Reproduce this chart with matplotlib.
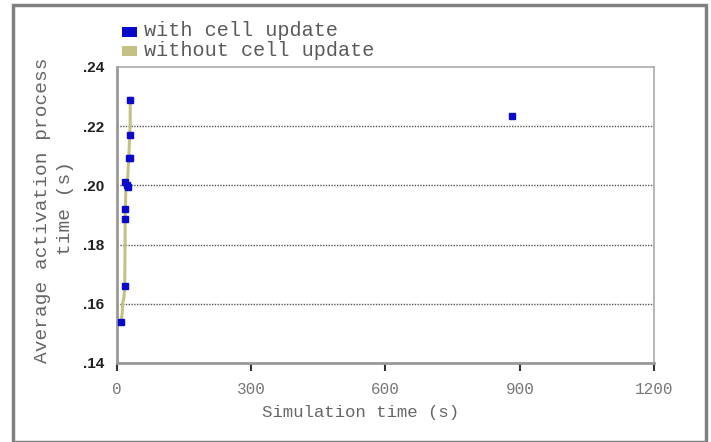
import numpy as np
import matplotlib
matplotlib.use("Agg")
import matplotlib.pyplot as plt
from matplotlib.patches import Rectangle

# "with cell update" samples (simulation time s, avg activation time s)
with_time = [9.6, 19.0, 19.0, 19.5, 19.5, 24.0, 24.5, 28.5, 29.5, 30.0, 30.3, 883.0]
with_value = [0.1539, 0.1660, 0.1887, 0.1920, 0.2011, 0.2000, 0.1995, 0.2094, 0.2094, 0.2171, 0.2288, 0.2233]

# "without cell update" samples
without_time = [9.6, 12.5, 13.5, 16.0, 18.0, 19.0, 20.5, 24.0, 27.0, 29.0, 30.0, 30.3]
without_value = [0.1539, 0.1570, 0.1605, 0.1620, 0.1660, 0.1887, 0.2000, 0.2010, 0.2094, 0.2171, 0.2200, 0.2295]

x_ticks = [0, 300, 600, 900, 1200]
y_ticks = [0.14, 0.16, 0.18, 0.20, 0.22, 0.24]
y_tick_labels = ['.14', '.16', '.18', '.20', '.22', '.24']
grid_levels = [0.16, 0.18, 0.20, 0.22]

blue = '#0a0acc'
olive = '#c4c184'
mono = 'Liberation Mono'
W, H = 711, 442

fig = plt.figure(figsize=(7.11, 4.42), dpi=100)
fig.patches.append(Rectangle((13 / W, 0.0), (706 - 13) / W, (H - 5) / H,
                             transform=fig.transFigure, fill=False,
                             edgecolor='#808080', linewidth=2.5))

ax = fig.add_axes([116.7 / W, 79 / H, (654.3 - 116.7) / W, (363 - 67) / H])

for lvl in grid_levels:
    ax.axhline(lvl, color='#555555', linestyle=(0, (1, 1)), linewidth=1.0, zorder=1)

ax.plot(without_time, without_value, color=olive, linewidth=2.2, zorder=2)
ax.plot(with_time, with_value, linestyle='none', marker='s', markersize=4.5,
        color=blue, zorder=3)

ax.set_xlim(0, 1200)
ax.set_ylim(0.14, 0.24)

ax.set_xticks(x_ticks)
ax.set_xticklabels([str(t) for t in x_ticks], family=mono, fontsize=11.5, color='#777777')
ax.set_yticks(y_ticks)
ax.set_yticklabels(y_tick_labels, family='Liberation Sans', fontweight='bold',
                   fontsize=11, color='#222222')
ax.tick_params(axis='x', direction='out', length=6, width=1.5, color='#333333', pad=8)
ax.tick_params(axis='y', length=0, pad=9)

for side in ['left', 'bottom']:
    ax.spines[side].set_color('#999999')
    ax.spines[side].set_linewidth(2)
for side in ['top', 'right']:
    ax.spines[side].set_color('#aaaaaa')
    ax.spines[side].set_linewidth(1.2)

# axis titles placed as in the original
fig.text(361 / W, 1 - 413 / H, 'Simulation time (s)', family=mono, fontsize=12.5,
         color='#666666', ha='center', va='center')
fig.text(43 / W, 1 - 210 / H, 'Average activation process', family=mono, fontsize=14,
         color='#666666', ha='center', va='center', rotation=90)
fig.text(66 / W, 1 - 208 / H, 'time (s)', family=mono, fontsize=14,
         color='#666666', ha='center', va='center', rotation=90)

# legend drawn as in the original: small coloured boxes with text
fig.patches.append(Rectangle((122 / W, 1 - 37 / H), 15 / W, 10 / H,
                             transform=fig.transFigure, facecolor=blue, edgecolor='none'))
fig.patches.append(Rectangle((122 / W, 1 - 56 / H), 15 / W, 10 / H,
                             transform=fig.transFigure, facecolor=olive, edgecolor='none'))
fig.text(144 / W, 1 - 30 / H, 'with cell update', family=mono, fontsize=14.5,
         color='#5a5a5a', va='center')
fig.text(144 / W, 1 - 51 / H, 'without cell update', family=mono, fontsize=14.5,
         color='#5a5a5a', va='center')

fig.savefig('out.png', dpi=100)
